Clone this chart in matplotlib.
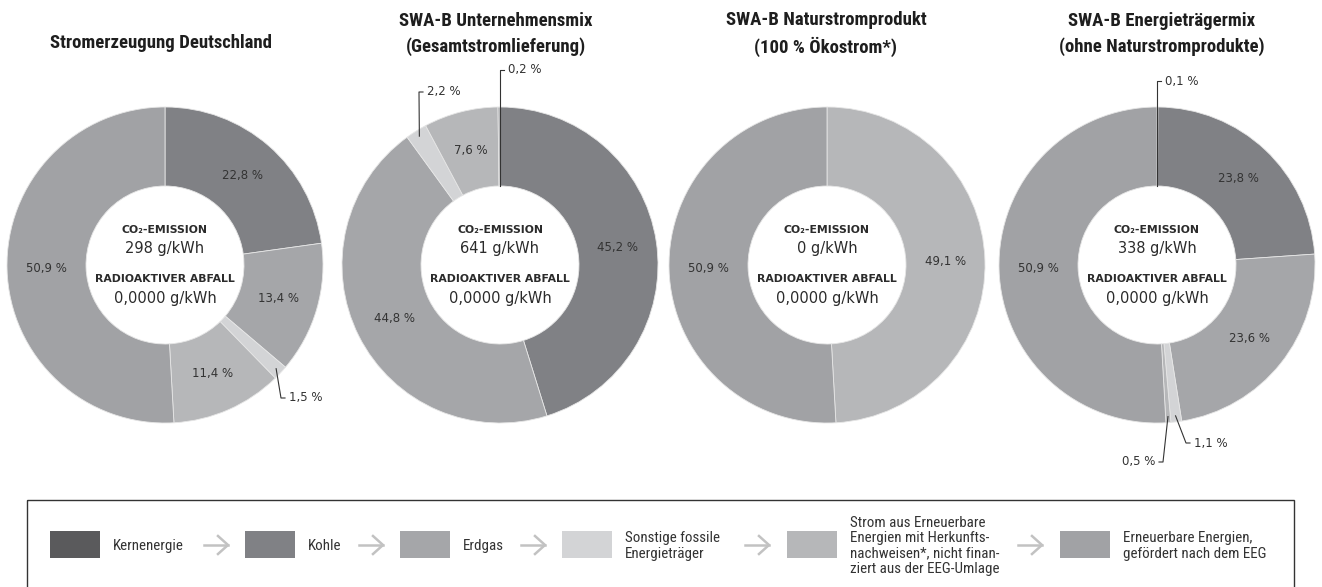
import numpy as np
import matplotlib
matplotlib.use("Agg")
import matplotlib.pyplot as plt
from matplotlib.patches import Rectangle
from matplotlib import font_manager as fm

# Energy sources (legend order = clockwise order in the rings)
sources = ["Kernenergie", "Kohle", "Erdgas", "Sonstige fossile\nEnergieträger",
           "Strom aus Erneuerbare\nEnergien mit Herkunfts-\nnachweisen*, nicht finan-\nziert aus der EEG-Umlage",
           "Erneuerbare Energien,\ngefördert nach dem EEG"]
colors = ["#5a5a5c", "#808185", "#a5a6a9", "#d3d4d6", "#b6b7b9", "#a1a2a5"]

titles = ["Stromerzeugung Deutschland",
          "SWA-B Unternehmensmix\n(Gesamtstromlieferung)",
          "SWA-B Naturstromprodukt\n(100 % Ökostrom*)",
          "SWA-B Energieträgermix\n(ohne Naturstromprodukte)"]

share_de = [0.0, 22.8, 13.4, 1.5, 11.4, 50.9]
share_unternehmen = [0.0, 45.2, 44.8, 2.2, 7.6, 0.2]
share_natur = [0.0, 0.0, 0.0, 0.0, 49.1, 50.9]
share_traeger = [0.1, 23.8, 23.6, 1.1, 0.5, 50.9]
shares = [share_de, share_unternehmen, share_natur, share_traeger]

co2 = ["298", "641", "0", "338"]
radio = ["0,0000", "0,0000", "0,0000", "0,0000"]

# layout (pixels, y downwards)
W, H = 1322, 587
centers_x = [165, 500, 827, 1157]
cy = 265
R, R_IN = 158, 79
title_x = [161, 496, 826, 1162]

# small slices with callouts: (chart, slice, elbow x, label y, side)
callouts = [(0, 3, 281, 398, 1), (1, 3, 419, 92, 1), (1, 5, None, 70, 1),
            (3, 0, None, 81, 1), (3, 3, 1186, 443, 1), (3, 4, 1163, 462, -1)]

# pick a narrow font if one is installed
installed = {f.name for f in fm.fontManager.ttflist}
narrow_pref = ["Liberation Sans Narrow", "Roboto Condensed", "Open Sans Condensed",
               "Noto Sans Condensed", "DejaVu Sans Condensed", "Noto Sans SemiCondensed"]
narrow_name = next((n for n in narrow_pref if n in installed), None)
stretch = "normal"
if narrow_name is None:
    cond = [f for f in fm.fontManager.ttflist
            if str(f.stretch) in ("condensed", "semi-condensed", "extra-condensed", "75", "87")]
    if cond:
        narrow_name = cond[0].name
        stretch = "condensed"
narrow = [narrow_name, "DejaVu Sans"] if narrow_name else ["DejaVu Sans"]
txt = "#2b2b2b"

fig = plt.figure(figsize=(W / 100, H / 100), dpi=100)
ax = fig.add_axes([0, 0, 1, 1])


def point(cx, frac, r):
    a = 2 * np.pi * frac
    return cx + r * np.sin(a), cy - r * np.cos(a)


for i, vals in enumerate(shares):
    cx = centers_x[i]
    idx = [k for k, v in enumerate(vals) if v > 0]
    ax.pie([vals[k] for k in idx], colors=[colors[k] for k in idx],
           center=(cx, cy), radius=R, startangle=-90, counterclock=True,
           wedgeprops=dict(width=R - R_IN, edgecolor="#e6e6e6", linewidth=0.6))

    cum = np.cumsum([0] + vals) / 100
    small = [c[1] for c in callouts if c[0] == i]
    for k, v in enumerate(vals):
        if v <= 0 or k in small:
            continue
        x, y = point(cx, (cum[k] + cum[k + 1]) / 2, (R + R_IN) / 2)
        ax.text(x, y, f"{v:.1f} %".replace(".", ","), ha="center", va="center",
                fontsize=8.5, color="#333333")

    # centre text
    ax.text(cx, cy - 35, "CO₂-EMISSION", ha="center", va="center",
            fontsize=7.8, fontweight="bold", color=txt)
    ax.text(cx, cy - 16, f"{co2[i]} g/kWh", ha="center", va="center",
            fontsize=10.5, color=txt)
    ax.text(cx, cy + 14, "RADIOAKTIVER ABFALL", ha="center", va="center",
            fontsize=7.8, fontweight="bold", color=txt)
    ax.text(cx, cy + 33, f"{radio[i]} g/kWh", ha="center", va="center",
            fontsize=10.5, color=txt)

    # title
    ty = 43 if "\n" not in titles[i] else 34
    ax.text(title_x[i], ty, titles[i], ha="center", va="center", fontsize=13.5,
            fontweight="bold", family=narrow, fontstretch=stretch,
            color="#1e1e1e", linespacing=1.45)

for ci, k, ex, ly, side in callouts:
    vals = shares[ci]
    cum = np.cumsum([0] + vals) / 100
    frac = (cum[k] + cum[k + 1]) / 2
    cx = centers_x[ci]
    if ex is None:
        x0, y0 = point(cx, frac, R_IN)
        ex = x0
    else:
        x0, y0 = point(cx, frac, 152)
    ax.plot([x0, ex, ex + 4 * side], [y0, ly, ly], color="#333333", lw=0.8)
    ax.text(ex + 8 * side, ly, f"{vals[k]:.1f} %".replace(".", ","),
            ha="left" if side > 0 else "right", va="center",
            fontsize=8.5, color="#333333")

# legend
ax.add_patch(Rectangle((27, 500), 1267, 110, facecolor="none",
                       edgecolor="#333333", lw=1))
swatch_x = [50, 245, 400, 562, 787, 1060]
arrow_x = [204, 359, 521, 745, 1018]
for k, sx in enumerate(swatch_x):
    ax.add_patch(Rectangle((sx, 531), 50, 27, facecolor=colors[k], edgecolor="none"))
    ax.text(sx + 63, 546, sources[k], ha="left", va="center", fontsize=10.8,
            family=narrow, fontstretch=stretch, color="#333333", linespacing=1.1)
for axx in arrow_x:
    ax.plot([axx, axx + 24], [545, 545], color="#c2c2c2", lw=1.8)
    ax.plot([axx + 14, axx + 24, axx + 14], [536, 545, 554], color="#c2c2c2", lw=1.8)

ax.set_xlim(0, W)
ax.set_ylim(H, 0)
ax.set_aspect("auto")
ax.axis("off")

fig.savefig("out.png", dpi=100)
